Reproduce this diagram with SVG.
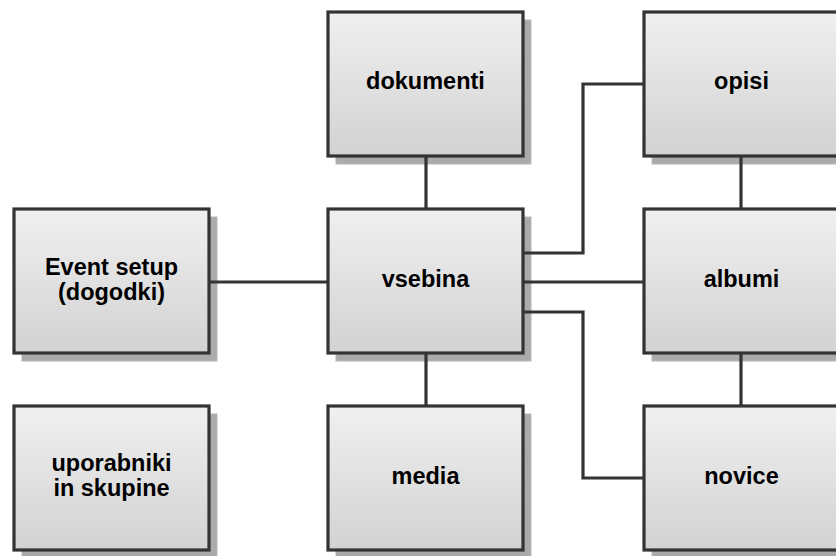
<svg xmlns="http://www.w3.org/2000/svg" width="836" height="556" viewBox="0 0 836 556">
<defs>
<linearGradient id="g" x1="0" y1="0" x2="0" y2="1">
<stop offset="0" stop-color="#f0f0f0"/>
<stop offset="1" stop-color="#d2d2d2"/>
</linearGradient>
</defs>
<style>
.sh{fill:#aaaaaa;stroke:#b8b8b8;stroke-width:1}
.bx{fill:url(#g);stroke:#333333;stroke-width:3.2}
.t{font-family:"Liberation Sans",Arial,sans-serif;font-weight:bold;font-size:23.5px;fill:#000;text-anchor:middle}
.c{fill:none;stroke:#333333;stroke-width:3.2}
</style>
<rect width="836" height="556" fill="#ffffff"/>
<g id="n-dokumenti">
<rect class="sh" x="336" y="20" width="195" height="144"/>
<rect class="bx" x="328" y="12" width="195" height="144"/>
<text class="t" x="425.5" y="89">dokumenti</text>
</g>
<g id="n-opisi">
<rect class="sh" x="652" y="20" width="195" height="144"/>
<rect class="bx" x="644" y="12" width="195" height="144"/>
<text class="t" x="741.5" y="89">opisi</text>
</g>
<g id="n-event">
<rect class="sh" x="22" y="217" width="195" height="144"/>
<rect class="bx" x="14" y="209" width="195" height="144"/>
<text class="t" x="111.5" y="275">Event setup</text>
<text class="t" x="111.5" y="300">(dogodki)</text>
</g>
<g id="n-vsebina">
<rect class="sh" x="336" y="217" width="195" height="144"/>
<rect class="bx" x="328" y="209" width="195" height="144"/>
<text class="t" x="425.5" y="287">vsebina</text>
</g>
<g id="n-albumi">
<rect class="sh" x="652" y="217" width="195" height="144"/>
<rect class="bx" x="644" y="209" width="195" height="144"/>
<text class="t" x="741.5" y="287">albumi</text>
</g>
<g id="n-uporabniki">
<rect class="sh" x="22" y="414" width="195" height="144"/>
<rect class="bx" x="14" y="406" width="195" height="144"/>
<text class="t" x="111.5" y="471">uporabniki</text>
<text class="t" x="111.5" y="496">in skupine</text>
</g>
<g id="n-media">
<rect class="sh" x="336" y="414" width="195" height="144"/>
<rect class="bx" x="328" y="406" width="195" height="144"/>
<text class="t" x="425.5" y="484">media</text>
</g>
<g id="n-novice">
<rect class="sh" x="652" y="414" width="195" height="144"/>
<rect class="bx" x="644" y="406" width="195" height="144"/>
<text class="t" x="741.5" y="484">novice</text>
</g>
<g id="connectors">
<path class="c" d="M210,282 H327"/>
<path class="c" d="M426,157 V208"/>
<path class="c" d="M426,354 V405"/>
<path class="c" d="M524,253 H583 V84 H643"/>
<path class="c" d="M524,282 H643"/>
<path class="c" d="M524,312 H583 V478 H643"/>
<path class="c" d="M741,157 V208"/>
<path class="c" d="M741,354 V405"/>
</g>
</svg>
